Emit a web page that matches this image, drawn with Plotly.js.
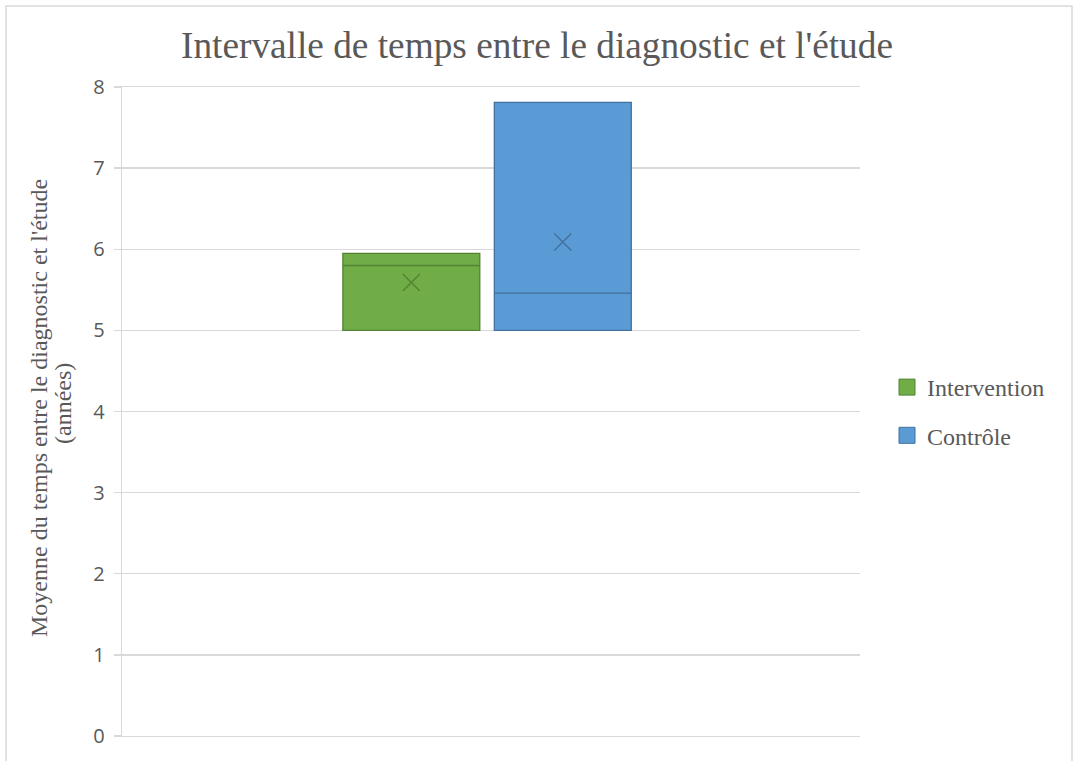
<!DOCTYPE html>
<html>
<head>
<meta charset="utf-8">
<script src="https://cdn.plot.ly/plotly-3.0.1.min.js"></script>
<style>html,body{margin:0;padding:0;background:#fff;}#chart{width:1074px;height:761px;}</style>
</head>
<body>
<div id="chart"></div>
<script>
// Data
const seriesNames = ['Intervention', 'Contrôle'];
const q1Values = [5.0, 5.0];
const medianValues = [5.80, 5.46];
const q3Values = [5.95, 7.81];
const minValues = [5.0, 5.0];
const maxValues = [5.95, 7.81];
const meanValues = [5.59, 6.09];
const yTickVals = [0, 1, 2, 3, 4, 5, 6, 7, 8];
const yTickText = ['0', '1', '2', '3', '4', '5', '6', '7', '8'];
const yTitleLines = ["Moyenne du temps entre le diagnostic et l'étude", "(années)"];
const chartTitle = "Intervalle de temps entre le diagnostic et l'étude";

const fillColors = ['#70ad47', '#5b9bd5'];
const lineColors = ['#548235', '#41719c'];
const serif = 'Liberation Serif, Times New Roman, serif';

const traces = [];
seriesNames.forEach((name, i) => {
  traces.push({
    type: 'box',
    name: name,
    x: [name],
    q1: [q1Values[i]],
    median: [medianValues[i]],
    q3: [q3Values[i]],
    lowerfence: [minValues[i]],
    upperfence: [maxValues[i]],
    width: 0.904,
    whiskerwidth: 0,
    fillcolor: fillColors[i],
    line: {color: lineColors[i], width: 1.3},
    showlegend: false,
    hoverinfo: 'skip'
  });
  traces.push({
    type: 'scatter',
    mode: 'markers',
    x: [name],
    y: [meanValues[i]],
    marker: {symbol: 'x-thin-open', size: 17, color: lineColors[i], line: {color: lineColors[i], width: 1.4}},
    showlegend: false,
    hoverinfo: 'skip'
  });
  traces.push({
    type: 'scatter',
    mode: 'markers',
    name: name,
    x: [null],
    y: [null],
    legendgroup: 'g' + i,
    marker: {symbol: 'square', size: 16, color: fillColors[i], line: {color: lineColors[i], width: 1}},
    showlegend: true
  });
});

const layout = {
  width: 1074,
  height: 761,
  margin: {l: 122, r: 214, t: 87, b: 25},
  paper_bgcolor: '#ffffff',
  plot_bgcolor: '#ffffff',
  title: {
    text: chartTitle,
    font: {family: serif, size: 37.3, color: '#595959'},
    x: 0.5, xref: 'container', xanchor: 'center',
    y: 1 - 45 / 761, yref: 'container', yanchor: 'middle'
  },
  xaxis: {
    type: 'category',
    categoryarray: seriesNames,
    range: [-1.91, 2.962],
    showgrid: false, zeroline: false,
    showline: true, mirror: true,
    linecolor: '#d9d9d9', linewidth: 1.3,
    showticklabels: false, ticks: '',
    fixedrange: true
  },
  yaxis: {
    range: [0, 8],
    tickvals: yTickVals,
    ticktext: yTickText,
    showgrid: true,
    gridcolor: '#d9d9d9',
    gridwidth: 1.3,
    zeroline: false,
    showline: true,
    linecolor: '#d9d9d9',
    linewidth: 1.3,
    ticks: 'outside',
    ticklen: 7,
    tickwidth: 1.3,
    tickcolor: '#d9d9d9',
    ticklabelstandoff: 5,
    tickfont: {family: 'Open Sans, sans-serif', size: 20, color: '#595959'},
    fixedrange: true
  },
  annotations: [
    {
      text: yTitleLines[0], textangle: -90, showarrow: false,
      xref: 'paper', yref: 'paper',
      x: (39 - 122) / 738, y: (736 - 408) / 649,
      xanchor: 'center', yanchor: 'middle',
      font: {family: serif, size: 24, color: '#595959'}
    },
    {
      text: yTitleLines[1], textangle: -90, showarrow: false,
      xref: 'paper', yref: 'paper',
      x: (63 - 122) / 738, y: (736 - 404) / 649,
      xanchor: 'center', yanchor: 'middle',
      font: {family: serif, size: 24, color: '#595959'}
    }
  ],
  showlegend: true,
  legend: {
    x: (887 - 122) / 738,
    xanchor: 'left',
    y: 0.5,
    yanchor: 'middle',
    font: {family: serif, size: 24, color: '#595959'},
    tracegroupgap: 14,
    itemwidth: 30,
    bgcolor: 'rgba(0,0,0,0)'
  },
  shapes: [{
    type: 'rect', xref: 'paper', yref: 'paper',
    x0: (6 - 122) / 738, x1: (1072 - 122) / 738,
    y0: (736 - 768) / 649, y1: (736 - 6) / 649,
    line: {color: '#d9d9d9', width: 1.5},
    fillcolor: 'rgba(0,0,0,0)',
    layer: 'below'
  }]
};

Plotly.newPlot('chart', traces, layout, {displayModeBar: false, staticPlot: true});
</script>
</body>
</html>
